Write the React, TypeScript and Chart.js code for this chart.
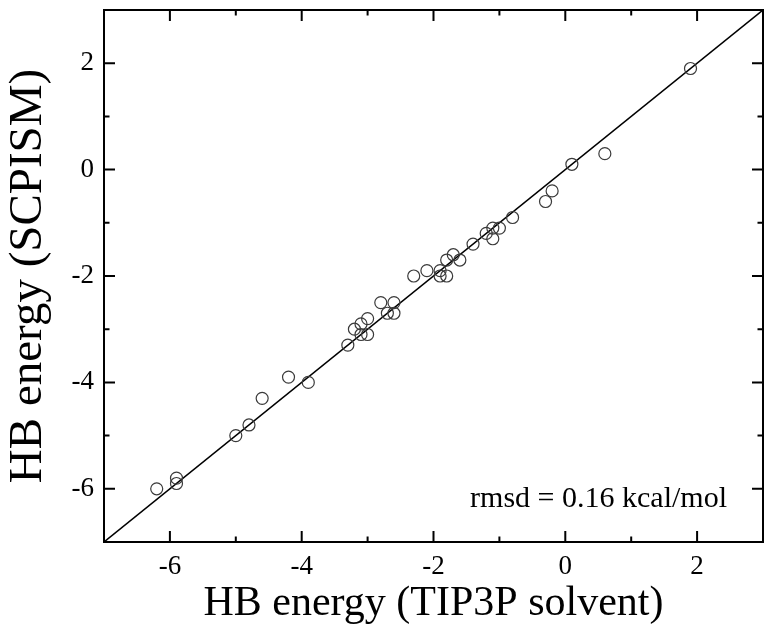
import React, { useEffect, useRef } from 'react';
import { Chart, registerables } from 'chart.js';

Chart.register(...registerables);

// HB energy from TIP3P explicit solvent (x) vs SCPISM (y), kcal/mol
const tip3p = [
  1.9, 0.6, 0.1, -0.2, -0.3, -0.8, -1.0, -1.1, -1.2, -1.1, -1.4, -1.7, -1.6,
  -1.8, -1.9, -2.1, -2.3, -1.9, -1.8, -2.8, -2.6, -2.7, -2.6, -3.0, -3.1,
  -3.2, -3.1, -3.0, -3.3, -3.9, -4.2, -4.6, -4.8, -5.0, -5.9, -5.9, -6.2,
];
const scpism = [
  1.9, 0.3, 0.1, -0.4, -0.6, -0.9, -1.1, -1.1, -1.2, -1.3, -1.4, -1.6, -1.7,
  -1.7, -1.9, -1.9, -2.0, -2.0, -2.0, -2.5, -2.5, -2.7, -2.7, -2.8, -2.9,
  -3.0, -3.1, -3.1, -3.3, -4.0, -3.9, -4.3, -4.8, -5.0, -5.8, -5.9, -6.0,
];
const diagonal = [-7, 3];
const axisMin = -7;
const axisMax = 3;
const xTitle = 'HB energy (TIP3P solvent)';
const yTitle = 'HB energy (SCPISM)';
const note = 'rmsd = 0.16 kcal/mol';

const SERIF = '"Liberation Serif", "Times New Roman", serif';

const frameTicks = {
  id: 'frameTicks',
  afterDatasetsDraw(chart: any) {
    const { ctx, chartArea, scales } = chart;
    const { left, right, top, bottom } = chartArea;
    const xs = scales.x;
    const ys = scales.y;
    ctx.save();
    ctx.strokeStyle = '#000';
    ctx.lineWidth = 2;
    ctx.strokeRect(left, top, right - left, bottom - top);
    ctx.beginPath();
    for (let v = axisMin + 1; v < axisMax; v++) {
      const len = v % 2 === 0 ? 11 : 5.5;
      const px = xs.getPixelForValue(v);
      ctx.moveTo(px, bottom);
      ctx.lineTo(px, bottom - len);
      ctx.moveTo(px, top);
      ctx.lineTo(px, top + len);
      const py = ys.getPixelForValue(v);
      ctx.moveTo(left, py);
      ctx.lineTo(left + len, py);
      ctx.moveTo(right, py);
      ctx.lineTo(right - len, py);
    }
    ctx.stroke();
    ctx.fillStyle = '#000';
    ctx.font = `30px ${SERIF}`;
    ctx.textAlign = 'right';
    ctx.textBaseline = 'alphabetic';
    ctx.fillText(note, right - 36, bottom - 35);
    ctx.restore();
  },
};

export default function App() {
  const ref = useRef<HTMLCanvasElement>(null);
  useEffect(() => {
    if (!ref.current) return;
    const points = tip3p.map((x, i) => ({ x, y: scpism[i] }));
    const linePts = diagonal.map((v) => ({ x: v, y: v }));
    const tickCb = (v: any) => (Number(v) % 2 === 0 ? String(v) : '');
    const chart = new Chart(ref.current, {
      type: 'scatter',
      data: {
        datasets: [
          {
            data: linePts,
            showLine: true,
            borderColor: '#000',
            borderWidth: 1.5,
            pointRadius: 0,
            order: 2,
          },
          {
            data: points,
            pointRadius: 6,
            pointBorderWidth: 1.2,
            pointBorderColor: '#3a3a3a',
            pointBackgroundColor: 'rgba(0,0,0,0)',
            borderColor: '#3a3a3a',
            backgroundColor: 'rgba(0,0,0,0)',
            order: 1,
          },
        ],
      },
      options: {
        responsive: false,
        animation: false,
        layout: { padding: { left: 0, top: 10, right: 11, bottom: 0 } },
        plugins: {
          legend: { display: false },
          tooltip: { enabled: false },
        },
        scales: {
          x: {
            type: 'linear',
            min: axisMin,
            max: axisMax,
            grid: { display: false, drawTicks: false },
            border: { display: false },
            ticks: {
              stepSize: 1,
              callback: tickCb,
              color: '#000',
              padding: 9,
              maxRotation: 0,
              autoSkip: false,
              font: { family: SERIF, size: 27 },
            },
            title: {
              display: true,
              text: xTitle,
              color: '#000',
              font: { family: SERIF, size: 42 },
              padding: { top: 0, bottom: 11 },
            },
            afterFit: (s: any) => {
              s.height = 98;
              s.paddingLeft = 0;
              s.paddingRight = 0;
            },
          },
          y: {
            type: 'linear',
            min: axisMin,
            max: axisMax,
            grid: { display: false, drawTicks: false },
            border: { display: false },
            ticks: {
              stepSize: 1,
              callback: tickCb,
              color: '#000',
              padding: 10,
              autoSkip: false,
              font: { family: SERIF, size: 27 },
            },
            title: {
              display: true,
              text: yTitle,
              color: '#000',
              font: { family: SERIF, size: 47 },
              padding: { top: 0, bottom: 0 },
            },
            afterFit: (s: any) => {
              s.width = 104;
              s.paddingTop = 0;
              s.paddingBottom = 0;
            },
          },
        },
      },
      plugins: [frameTicks],
    });
    return () => chart.destroy();
  }, []);
  return (
    <div style={{ position: 'absolute', left: 0, top: 0, width: 774, height: 640, background: '#fff' }}>
      <canvas ref={ref} width={774} height={640} />
    </div>
  );
}
